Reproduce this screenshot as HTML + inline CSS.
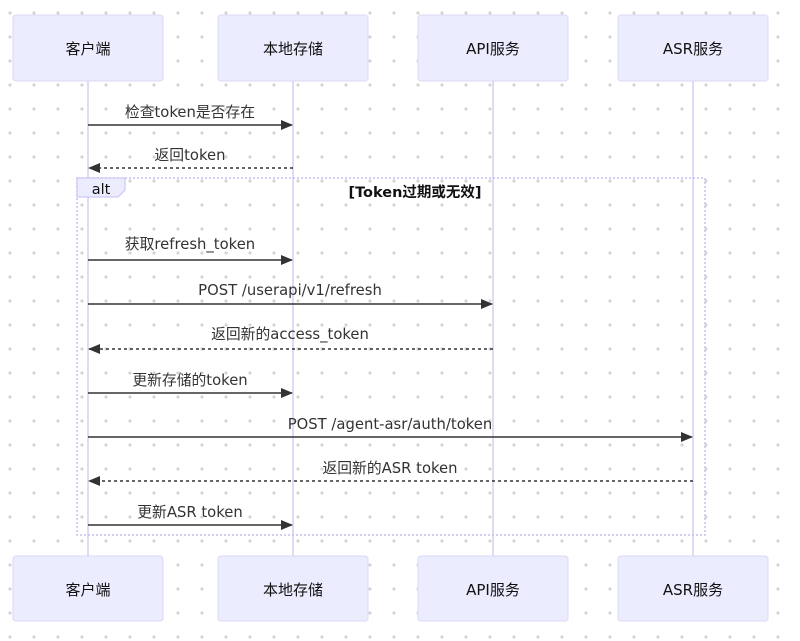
<!DOCTYPE html>
<html><head><meta charset="utf-8"><style>
body{margin:0;background:#fff}
svg{display:block;font-family:"DejaVu Sans","Noto Sans CJK SC",sans-serif}
</style></head><body>
<svg width="800" height="641" viewBox="0 0 800 641" xmlns="http://www.w3.org/2000/svg">
<defs>
<pattern id="dots" x="-2" y="1" width="24" height="24" patternUnits="userSpaceOnUse"><circle cx="12" cy="12" r="1.6" fill="#d4d4d4"/></pattern>
<marker id="ah" markerWidth="12" markerHeight="10" refX="11" refY="5" orient="auto" markerUnits="userSpaceOnUse"><path d="M0,0 L12,5 L0,10 z" fill="#333"/></marker>
</defs>
<rect width="800" height="641" fill="url(#dots)"/>
<g stroke="#d6cdf0" stroke-width="1.5">
<line x1="88" y1="81" x2="88" y2="556"/><line x1="293" y1="81" x2="293" y2="556"/>
<line x1="493" y1="81" x2="493" y2="556"/><line x1="693" y1="81" x2="693" y2="556"/>
</g>
<g fill="#ececff" stroke="#ddd7f6" stroke-width="1">
<rect x="13" y="15" width="150" height="66" rx="3"/><rect x="218" y="15" width="150" height="66" rx="3"/>
<rect x="418" y="15" width="150" height="66" rx="3"/><rect x="618" y="15" width="150" height="66" rx="3"/>
<rect x="13" y="556" width="150" height="65" rx="3"/><rect x="218" y="556" width="150" height="65" rx="3"/>
<rect x="418" y="556" width="150" height="65" rx="3"/><rect x="618" y="556" width="150" height="65" rx="3"/>
</g>
<g font-size="15" text-anchor="middle" fill="#111">
<text x="88" y="54">客户端</text><text x="293" y="54">本地存储</text><text x="493" y="54">API服务</text><text x="693" y="54">ASR服务</text>
<text x="88" y="595">客户端</text><text x="293" y="595">本地存储</text><text x="493" y="595">API服务</text><text x="693" y="595">ASR服务</text>
</g>
<rect x="77" y="178" width="628" height="357" fill="none" stroke="#c9bff0" stroke-width="1.5" stroke-dasharray="2,2"/>
<path d="M77,178 H125 V190 L118,197 H77 z" fill="#ececff" stroke="#c9bff0"/>
<text x="101" y="194" font-size="14.5" text-anchor="middle" fill="#111">alt</text>
<text x="415" y="197" font-size="14.5" font-weight="bold" text-anchor="middle" fill="#111">[Token过期或无效]</text>
<g stroke="#333" stroke-width="1.5" fill="none">
<line x1="88" y1="125" x2="292" y2="125" marker-end="url(#ah)"/>
<line x1="293" y1="168" x2="89" y2="168" stroke-dasharray="3,3" marker-end="url(#ah)"/>
<line x1="88" y1="260" x2="292" y2="260" marker-end="url(#ah)"/>
<line x1="88" y1="304" x2="492" y2="304" marker-end="url(#ah)"/>
<line x1="493" y1="349" x2="89" y2="349" stroke-dasharray="3,3" marker-end="url(#ah)"/>
<line x1="88" y1="393" x2="292" y2="393" marker-end="url(#ah)"/>
<line x1="88" y1="437" x2="692" y2="437" marker-end="url(#ah)"/>
<line x1="693" y1="481" x2="89" y2="481" stroke-dasharray="3,3" marker-end="url(#ah)"/>
<line x1="88" y1="525" x2="292" y2="525" marker-end="url(#ah)"/>
</g>
<g font-size="14.8" text-anchor="middle" fill="#333">
<text x="190" y="117">检查token是否存在</text>
<text x="190" y="160">返回token</text>
<text x="190" y="249">获取refresh_token</text>
<text x="290" y="295">POST /userapi/v1/refresh</text>
<text x="290" y="339">返回新的access_token</text>
<text x="190" y="385">更新存储的token</text>
<text x="390" y="429">POST /agent-asr/auth/token</text>
<text x="390" y="473">返回新的ASR token</text>
<text x="190" y="517">更新ASR token</text>
</g>
</svg>
</body></html>
